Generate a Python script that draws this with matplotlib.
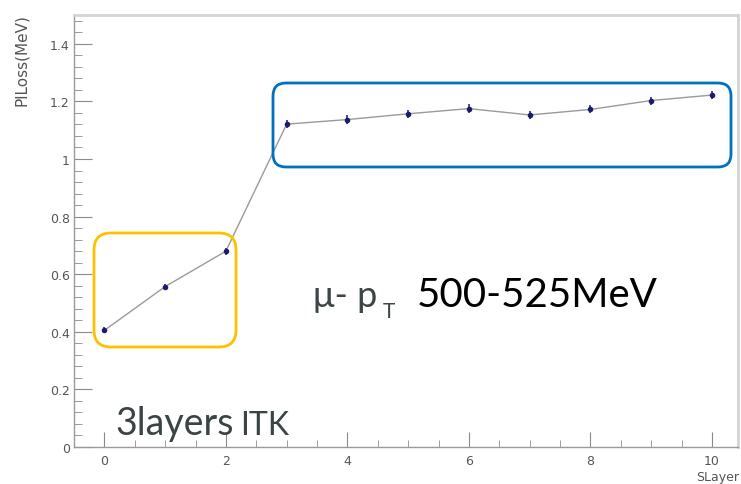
import matplotlib
matplotlib.use("Agg")
import matplotlib.pyplot as plt
import matplotlib.transforms as mtransforms
from matplotlib.patches import FancyBboxPatch
from matplotlib.ticker import MultipleLocator

# energy loss per silicon layer
slayer = [0, 1, 2, 3, 4, 5, 6, 7, 8, 9, 10]
ploss = [0.405, 0.557, 0.680, 1.121, 1.137, 1.157, 1.175, 1.153, 1.172, 1.203, 1.222]
ploss_err = [0.010, 0.010, 0.012, 0.014, 0.015, 0.014, 0.016, 0.015, 0.014, 0.014, 0.015]

W, H = 741, 485
fig = plt.figure(figsize=(W / 100, H / 100), dpi=100)
ax = fig.add_axes([74 / W, 37 / H, 664 / W, 432 / H])


def px(x, y):
    # image pixel (top-left origin) -> figure fraction
    return x / W, 1 - y / H


ax.plot(slayer, ploss, color="#9a9a9a", lw=1.0, zorder=2)
ax.errorbar(slayer, ploss, yerr=ploss_err, fmt="o", ms=3.0, color="#1c1c6e",
            ecolor="#2a2a80", elinewidth=1.2, capsize=0, zorder=3)

ax.set_xlim(-0.5, 10.43)
ax.set_ylim(0, 1.5)
ax.xaxis.set_major_locator(MultipleLocator(2))
ax.xaxis.set_minor_locator(MultipleLocator(0.5))
ax.yaxis.set_major_locator(MultipleLocator(0.2))
ax.yaxis.set_minor_locator(MultipleLocator(0.04))
ax.yaxis.set_major_formatter(plt.FuncFormatter(lambda v, p: f"{v:g}"))

ax.tick_params(which="both", direction="in", colors="#8a8a8a", labelcolor="#555555",
               labelsize=9, top=False, right=False)
ax.tick_params(axis="y", which="major", length=13, pad=3)
ax.tick_params(axis="y", which="minor", length=6)
ax.tick_params(axis="x", which="major", length=11, pad=5)
ax.tick_params(axis="x", which="minor", length=5)

for side in ["left", "bottom"]:
    ax.spines[side].set_color("#9a9a9a")
    ax.spines[side].set_linewidth(1.0)
for side in ["top", "right"]:
    ax.spines[side].set_color("#d4d4d4")
    ax.spines[side].set_linewidth(2.0)

fig.text(*px(22, 14), "PlLoss(MeV)", rotation=90, ha="center", va="top",
         fontsize=11, color="#555555")
fig.text(*px(739, 478), "SLayer", ha="right", va="center", fontsize=9, color="#555555")

# highlight boxes (pixel coordinates of the slide overlay)
ident = mtransforms.IdentityTransform()
boxes = [
    (94, 234, 236, 348, "#FFC000", 17),
    (273, 84, 731, 168, "#0070C0", 13),
]
for x0, y0, x1, y1, col, r in boxes:
    patch = FancyBboxPatch((x0, H - y1), x1 - x0, y1 - y0,
                           boxstyle=f"round,pad=0,rounding_size={r}",
                           fill=False, edgecolor=col, linewidth=2.0,
                           transform=ident, zorder=5)
    fig.add_artist(patch)

font = "Lato"
fig.text(*px(313, 307), "μ- p", fontsize=26, family=font, color="#3c4646", va="baseline")
fig.text(*px(383, 318), "T", fontsize=15, family=font, color="#3c4646", va="baseline")
fig.text(*px(417, 307), "500-525MeV", fontsize=29, family=font, color="black", va="baseline")

fig.text(*px(115, 435), "3layers", fontsize=27, family=font, color="#3a4444", va="baseline")
fig.text(*px(240, 435), "ITK", fontsize=23, family=font, color="#3a4444", va="baseline")

fig.savefig("out.png", dpi=100)
